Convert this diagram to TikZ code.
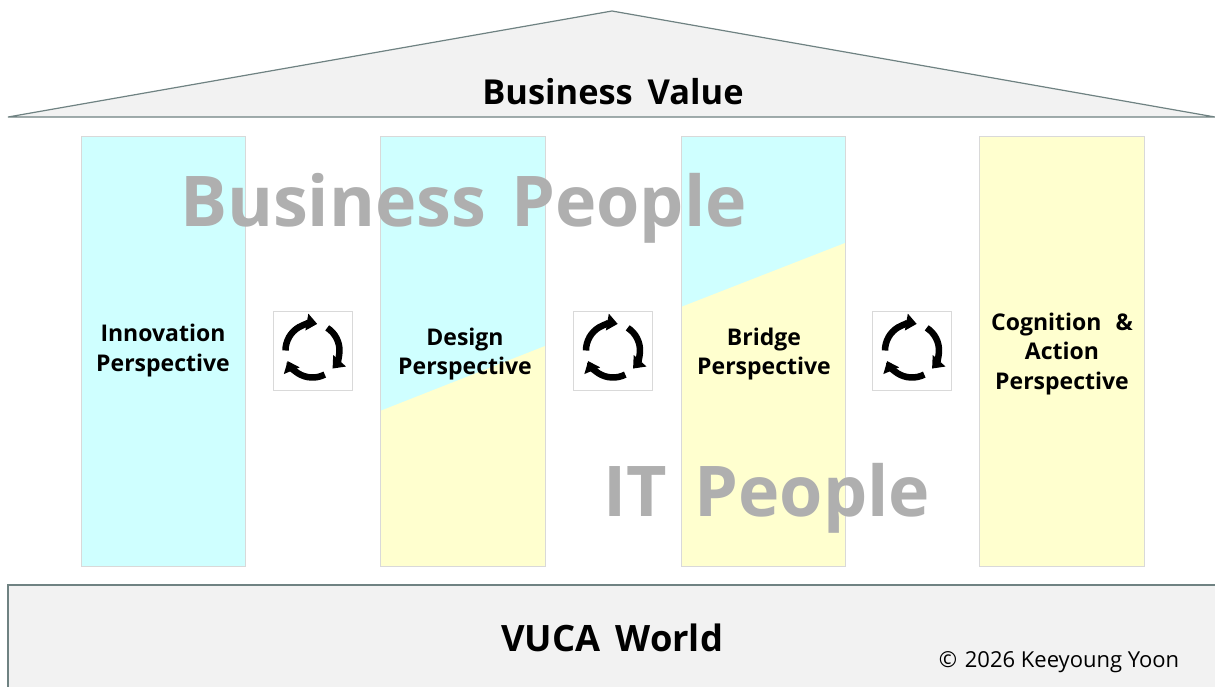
\documentclass[tikz,border=0pt]{standalone}
\usepackage{fontspec}
\setmainfont{Open Sans}
\usetikzlibrary{arrows.meta}
\definecolor{cy}{HTML}{CFFFFF}
\definecolor{ye}{HTML}{FFFFCF}
\definecolor{pb}{HTML}{D9D9D9}
\definecolor{fl}{HTML}{F2F2F2}
\definecolor{ed}{HTML}{6F8282}
\definecolor{wm}{HTML}{AFAFAF}
\tikzset{
  x=1pt,y=-1pt,
  panel/.style={draw=pb,line width=1pt},
  house/.style={draw=ed,fill=fl,line width=1.2pt},
  lab/.style={font=\bfseries\fontsize{23}{29.7}\selectfont,align=center,inner sep=0pt,text=black},
  big/.style={font=\bfseries\fontsize{34.4}{44}\selectfont,inner sep=0pt,text=black},
  bigb/.style={font=\bfseries\fontsize{36.3}{44}\selectfont,inner sep=0pt,text=black},
  wmark/.style={font=\bfseries\fontsize{70}{90}\selectfont,inner sep=0pt,text=wm},
  cyc/.style={draw=pb,fill=white,line width=1pt,minimum size=79pt,inner sep=0pt},
  arcarrow/.style={line width=6.5pt,-{Triangle[length=10.5pt,width=16.5pt]}}
}
\newcommand{\cycleicon}[1]{%
  \begin{scope}[shift={(#1)}]
    \draw[arcarrow] (180:27) arc[start angle=180,end angle=280,radius=27];
    \draw[arcarrow] (-57:27) arc[start angle=-57,end angle=42,radius=27];
    \draw[arcarrow] (63:27) arc[start angle=63,end angle=157,radius=27];
  \end{scope}}
\begin{document}
\begin{tikzpicture}
\useasboundingbox (0,0) rectangle (1215,686);
% roof and floor
\draw[house] (8,117) -- (612,11) -- (1215,117) -- cycle;
\draw[house] (1220,585) -- (8,585) -- (8,692) -- (1220,692);
\node[big] (bv) at (613,92) {Business\hspace{6pt} Value};
\node[bigb] (vuca) at (612,638) {VUCA\hspace{6pt} World};
\node[font=\fontsize{22}{28}\selectfont,inner sep=0pt] (copy) at (1059,662) {©\hspace{2pt} 2026 Keeyoung Yoon};
% panels
\fill[cy] (81,136) rectangle (245,566);
\draw[panel] (81,136) rectangle (245,566);
\fill[cy] (380,136) rectangle (545,566);
\fill[ye] (380,411) -- (545,346) -- (545,566) -- (380,566) -- cycle;
\draw[panel] (380,136) rectangle (545,566);
\fill[cy] (681,136) rectangle (845,566);
\fill[ye] (681,307) -- (845,243) -- (845,566) -- (681,566) -- cycle;
\draw[panel] (681,136) rectangle (845,566);
\fill[ye] (979,136) rectangle (1144,566);
\draw[panel] (979,136) rectangle (1144,566);
% labels
\node[lab] (inn) at (163,350.5) {Innovation\\Perspective};
\node[lab] (des) at (465,354) {Design\\Perspective};
\node[lab] (bri) at (764,354) {Bridge\\Perspective};
\node[lab] (cog) at (1062,354) {Cognition\hspace{8pt} \&\\Action\\Perspective};
% cycle icons
\node[cyc] (c1) at (312.5,350.5) {};
\node[cyc] (c2) at (613,350.5) {};
\node[cyc] (c3) at (912,350.5) {};
\cycleicon{c1.center}
\cycleicon{c2.center}
\cycleicon{c3.center}
% watermark labels
\node[wmark] (bp) at (463.5,208) {Business\hspace{7pt} People};
\node[wmark] (ip) at (767,498) {IT\hspace{9pt} People};
\end{tikzpicture}
\end{document}
